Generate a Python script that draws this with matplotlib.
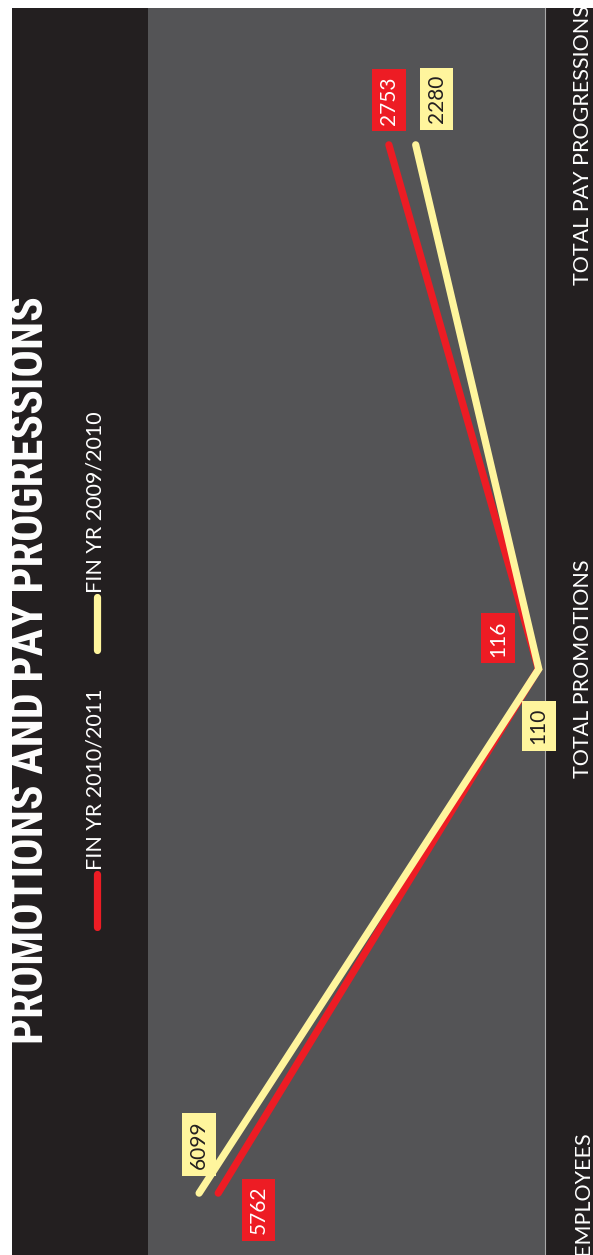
import matplotlib
matplotlib.use("Agg")
import matplotlib.pyplot as plt
from matplotlib import font_manager
from matplotlib.patches import Rectangle

# ---------------------------------------------------
# Data
# ---------------------------------------------------
categories = ["EMPLOYEES", "TOTAL PROMOTIONS", "TOTAL PAY PROGRESSIONS"]
fy_2011 = [5762, 116, 2753]
fy_2010 = [6099, 110, 2280]
series_names = ["FIN YR 2010/2011", "FIN YR 2009/2010"]

RED = "#ed1c24"
YELLOW = "#fff59d"
BLACK = "#231f20"
GREY = "#545456"

names = {f.name for f in font_manager.fontManager.ttflist}
TITLE_FONT = "DejaVu Sans"
for cand in ["Liberation Sans Narrow", "Roboto Condensed", "Open Sans Condensed", "Lato"]:
    if cand in names:
        TITLE_FONT = cand
        break
plt.rcParams["font.family"] = ["Lato", "DejaVu Sans"]

W, H = 593, 1255
fig = plt.figure(figsize=(W / 100, H / 100), dpi=100)
fig.patch.set_facecolor("white")
fig.patches.append(Rectangle((12 / W, 0), 1, 1 - 8 / H, transform=fig.transFigure,
                             facecolor=BLACK, edgecolor="none", zorder=-5))

# chart is drawn rotated: values run right->left, categories bottom->top
ax = fig.add_axes([148 / W, 0, (545 - 148) / W, (H - 8) / H], zorder=2)
ax.set_facecolor(GREY)

idx = list(range(len(categories)))
ax.plot(fy_2011, idx, color=RED, lw=5.2, solid_capstyle="round", solid_joinstyle="miter", zorder=3)
ax.plot(fy_2010, idx, color=YELLOW, lw=5.2, solid_capstyle="round", solid_joinstyle="miter", zorder=4)

ax.set_xlim(7000, 0)
ax.set_ylim(-0.118, 2.261)

for s in ["top", "bottom", "left"]:
    ax.spines[s].set_visible(False)
ax.spines["right"].set_color("#a8a8a8")
ax.spines["right"].set_linewidth(0.8)
ax.set_xticks([])
ax.yaxis.tick_right()
ax.set_yticks(idx)
ax.set_yticklabels(categories, rotation=90, va="center", ha="left",
                   fontsize=15.5, color="white")
ax.tick_params(axis="y", length=0, pad=20)

# data labels (offsets in points)
red_off = [(29, -12), (-29, 22), (0, 32)]
yel_off = [(0, 35), (0, -41), (15, 33)]
for v, i, off in zip(fy_2011, idx, red_off):
    ax.annotate(str(v), (v, i), xytext=off, textcoords="offset points",
                rotation=90, ha="center", va="center", fontsize=15, color="white",
                bbox=dict(boxstyle="square,pad=0.33", fc=RED, ec="none"), zorder=5)
for v, i, off in zip(fy_2010, idx, yel_off):
    ax.annotate(str(v), (v, i), xytext=off, textcoords="offset points",
                rotation=90, ha="center", va="center", fontsize=15, color="#231f20",
                bbox=dict(boxstyle="square,pad=0.33", fc=YELLOW, ec="none"), zorder=5)

# title
fig.text(30 / W, 1 - 670 / H, "PROMOTIONS AND PAY PROGRESSIONS", rotation=90,
         ha="center", va="center", fontsize=33, fontweight="bold", color="white",
         family=[TITLE_FONT, "DejaVu Sans"])

# legend
for name, col, y0 in zip(series_names, [RED, YELLOW], [927, 650]):
    fig.add_artist(plt.Line2D([97 / W, 97 / W], [1 - y0 / H, 1 - (y0 - 53) / H],
                              color=col, lw=5.2, solid_capstyle="round"))
    fig.text(95 / W, 1 - (y0 - 57) / H, name, rotation=90, ha="center", va="bottom",
             fontsize=15.5, color="white")

fig.savefig("out.png", dpi=100, facecolor=fig.get_facecolor())
